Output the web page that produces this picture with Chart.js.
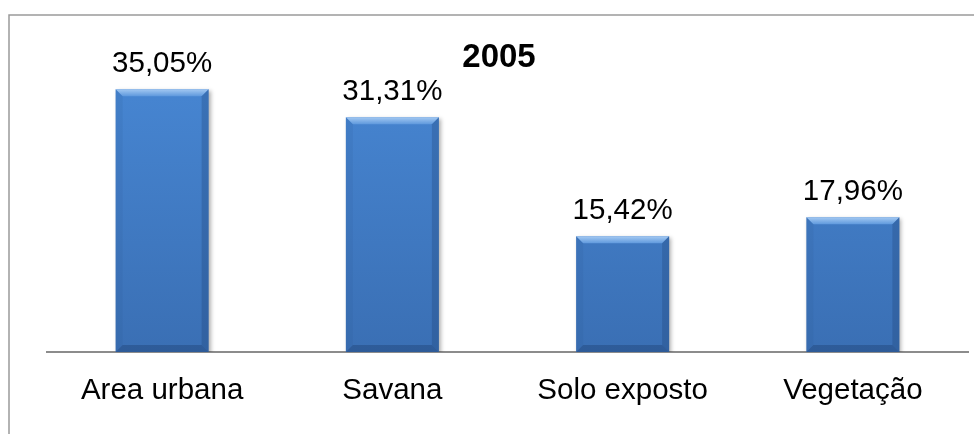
<!DOCTYPE html>
<html>
<head>
<meta charset="utf-8">
<script src="https://cdn.jsdelivr.net/npm/chart.js@4"></script>
<style>
    html, body { margin: 0; padding: 0; background: #fff; }
    #wrap { width: 974px; height: 434px; position: relative; }
</style>
</head>
<body>
<div id="wrap"><canvas id="coberturaChart"></canvas></div>
<script>
// Cobertura do solo - 2005
const categorias = ['Area urbana', 'Savana', 'Solo exposto', 'Vegetação'];
const percentuais = [35.05, 31.31, 15.42, 17.96];
const tituloAno = '2005';

const FONT = '"Liberation Sans", Arial, sans-serif';

// Moldura cinza no canto (apenas lados esquerdo e superior visíveis)
const moldura = {
    id: 'moldura',
    beforeDraw(chart) {
        const ctx = chart.ctx;
        ctx.save();
        ctx.strokeStyle = '#9a9a9a';
        ctx.lineWidth = 1.5;
        ctx.beginPath();
        ctx.moveTo(9, chart.height);
        ctx.lineTo(9, 15);
        ctx.lineTo(chart.width, 15);
        ctx.stroke();
        ctx.restore();
    }
};

// Sombra suave atrás das barras
const sombra = {
    id: 'sombra',
    beforeDatasetsDraw(chart) {
        const ctx = chart.ctx;
        ctx.save();
        ctx.shadowColor = 'rgba(0,0,0,0.3)';
        ctx.shadowBlur = 4;
        ctx.shadowOffsetX = 2;
        ctx.shadowOffsetY = 2;
    },
    afterDatasetsDraw(chart) {
        chart.ctx.restore();
    }
};

// Efeito chanfrado + rótulos de valor
const chanfro = {
    id: 'chanfro',
    afterDatasetsDraw(chart) {
        const ctx = chart.ctx;
        const meta = chart.getDatasetMeta(0);
        meta.data.forEach((bar, i) => {
            const { x, y, base, width } = bar.getProps(['x', 'y', 'base', 'width'], true);
            const l = x - width / 2, r = x + width / 2;
            const b = 7;
            ctx.save();
            // topo claro
            let g = ctx.createLinearGradient(0, y, 0, y + b);
            g.addColorStop(0, '#a4c9f2');
            g.addColorStop(1, '#5f99dd');
            ctx.fillStyle = g;
            ctx.beginPath();
            ctx.moveTo(l, y); ctx.lineTo(r, y); ctx.lineTo(r - b, y + b); ctx.lineTo(l + b, y + b);
            ctx.closePath(); ctx.fill();
            // lado esquerdo
            ctx.fillStyle = 'rgba(40,80,140,0.12)';
            ctx.beginPath();
            ctx.moveTo(l, y); ctx.lineTo(l + b, y + b); ctx.lineTo(l + b, base - b); ctx.lineTo(l, base);
            ctx.closePath(); ctx.fill();
            // lado direito
            ctx.fillStyle = 'rgba(25,55,105,0.25)';
            ctx.beginPath();
            ctx.moveTo(r, y); ctx.lineTo(r - b, y + b); ctx.lineTo(r - b, base - b); ctx.lineTo(r, base);
            ctx.closePath(); ctx.fill();
            // base escura
            ctx.fillStyle = 'rgba(20,45,90,0.3)';
            ctx.beginPath();
            ctx.moveTo(l, base); ctx.lineTo(l + b, base - b); ctx.lineTo(r - b, base - b); ctx.lineTo(r, base);
            ctx.closePath(); ctx.fill();

            // valor acima da barra
            ctx.fillStyle = '#000';
            ctx.font = '29.5px ' + FONT;
            ctx.textAlign = 'center';
            ctx.textBaseline = 'alphabetic';
            ctx.fillText(percentuais[i].toFixed(2).replace('.', ',') + '%', x, y - 17);
            ctx.restore();
        });

        // título
        ctx.save();
        ctx.fillStyle = '#000';
        ctx.font = 'bold 33px ' + FONT;
        ctx.textAlign = 'center';
        ctx.textBaseline = 'alphabetic';
        ctx.fillText(tituloAno, 499, 67);
        ctx.restore();
    }
};

const ctx = document.getElementById('coberturaChart').getContext('2d');
new Chart(ctx, {
    type: 'bar',
    data: {
        labels: categorias,
        datasets: [{
            data: percentuais,
            backgroundColor: (c) => {
                const area = c.chart.chartArea;
                if (!area) return '#3f7bc6';
                const g = c.chart.ctx.createLinearGradient(0, area.top, 0, area.bottom);
                g.addColorStop(0, '#4888d5');
                g.addColorStop(1, '#3a6fb4');
                return g;
            },
            borderWidth: 0,
            barPercentage: 0.404,
            categoryPercentage: 1
        }]
    },
    options: {
        responsive: true,
        maintainAspectRatio: false,
        animation: false,
        layout: { padding: { top: 52, left: 47, right: 6, bottom: 0 } },
        plugins: {
            legend: { display: false },
            title: { display: false },
            tooltip: { enabled: false }
        },
        scales: {
            y: { display: false, min: 0, max: 40 },
            x: {
                grid: { display: false },
                border: { display: true, color: '#8c8c8c', width: 2 },
                ticks: {
                    color: '#000',
                    padding: 13,
                    font: { family: FONT, size: 29.5 }
                },
                afterFit(scale) { scale.height = 82; }
            }
        }
    },
    plugins: [moldura, sombra, chanfro]
});
</script>
</body>
</html>
